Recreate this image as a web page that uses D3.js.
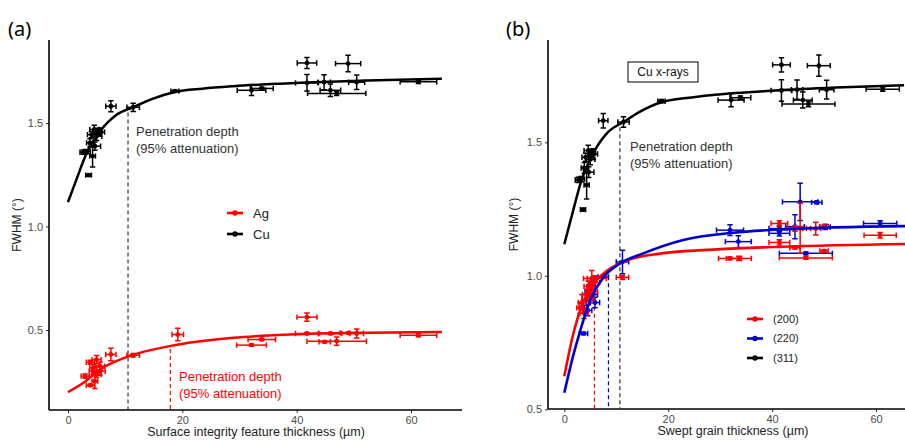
<!DOCTYPE html>
<html>
<head>
<meta charset="utf-8">
<script src="https://cdnjs.cloudflare.com/ajax/libs/d3/7.8.5/d3.min.js"></script>
<style>
	body { margin: 0; background: #fff; }
	svg { font-family: "Liberation Sans", Arial, sans-serif; }
</style>
</head>
<body>
<svg id="chart" width="905" height="440"></svg>
<script>
// points are [thickness, fwhm, xerr, yerr]
var cuPoints = [
	[41.8, 1.790, 1.7, 0.027], [49.0, 1.787, 2.2, 0.040], [41.8, 1.694, 2.0, 0.040],
	[44.8, 1.697, 1.1, 0.036], [45.9, 1.658, 1.8, 0.030], [47.0, 1.643, 5.1, 0.010],
	[50.5, 1.697, 1.4, 0.035], [61.3, 1.699, 3.2, 0.008], [32.1, 1.658, 2.5, 0.025],
	[33.9, 1.667, 2.0, 0.006], [7.5, 1.581, 0.9, 0.027], [11.4, 1.576, 1.1, 0.020],
	[18.7, 1.654, 0.7, 0.006], [4.6, 1.469, 0.8, 0.020], [5.6, 1.456, 0.8, 0.020],
	[5.0, 1.436, 0.9, 0.020], [4.1, 1.444, 0.7, 0.015], [5.3, 1.460, 0.7, 0.015],
	[4.7, 1.388, 1.0, 0.020], [2.7, 1.359, 0.6, 0.010], [3.3, 1.362, 0.6, 0.010],
	[4.3, 1.340, 0.5, 0.052], [3.6, 1.248, 0.5, 0.005], [3.85, 1.404, 0.6, 0.020]
];
var agPoints = [
	[41.8, 0.562, 1.75, 0.020], [19.2, 0.478, 1.0, 0.030], [7.5, 0.382, 0.9, 0.030],
	[11.4, 0.378, 1.1, 0.008], [41.8, 0.483, 2.0, 0.005], [45.9, 0.483, 2.0, 0.005],
	[49.1, 0.486, 1.5, 0.005], [50.5, 0.483, 1.2, 0.022], [61.3, 0.475, 3.2, 0.008],
	[33.9, 0.454, 2.4, 0.005], [32.1, 0.427, 2.6, 0.005], [44.9, 0.443, 1.0, 0.005],
	[47.0, 0.446, 5.2, 0.020], [5.0, 0.357, 0.8, 0.020], [3.9, 0.344, 0.7, 0.010],
	[4.4, 0.317, 0.6, 0.015], [5.6, 0.325, 0.8, 0.020], [3.0, 0.277, 0.7, 0.010],
	[5.0, 0.285, 0.8, 0.015], [3.9, 0.233, 0.7, 0.005], [4.7, 0.253, 0.5, 0.036],
	[5.6, 0.301, 0.9, 0.020], [4.4, 0.301, 0.7, 0.015]
];
var p200Points = [
	[41.4, 1.196, 1.6, 0.010], [41.4, 1.125, 2.0, 0.010], [44.4, 1.177, 1.5, 0.010],
	[45.4, 1.178, 1.2, 0.094], [48.4, 1.177, 1.0, 0.024], [50.0, 1.184, 0.8, 0.005],
	[44.4, 1.105, 1.0, 0.005], [46.5, 1.067, 5.1, 0.005], [50.0, 1.093, 0.8, 0.005],
	[60.8, 1.152, 3.1, 0.010], [31.9, 1.065, 2.2, 0.005], [33.6, 1.065, 2.4, 0.008],
	[11.2, 0.994, 1.2, 0.008], [5.3, 0.990, 0.9, 0.030], [4.6, 0.960, 0.8, 0.020],
	[5.8, 0.975, 1.0, 0.020], [3.4, 0.900, 0.7, 0.030], [4.3, 0.930, 0.8, 0.020],
	[3.0, 0.880, 0.6, 0.020], [3.8, 0.860, 0.8, 0.020], [5.0, 0.920, 0.7, 0.020],
	[5.5, 0.940, 0.9, 0.030], [5.9, 0.990, 2.2, 0.010]
];
var p220Points = [
	[31.9, 1.171, 2.6, 0.020], [33.5, 1.128, 2.5, 0.022], [41.4, 1.177, 2.0, 0.010],
	[41.4, 1.159, 2.0, 0.010], [44.4, 1.184, 1.8, 0.045], [45.4, 1.277, 3.4, 0.070],
	[48.6, 1.275, 1.0, 0.005], [50.2, 1.183, 1.0, 0.010], [60.8, 1.196, 3.2, 0.010],
	[46.5, 1.084, 5.1, 0.005], [11.2, 1.052, 1.2, 0.044], [7.5, 0.996, 1.0, 0.005],
	[3.7, 0.784, 0.8, 0.005], [4.8, 0.940, 0.8, 0.020], [5.6, 0.930, 0.8, 0.030],
	[3.6, 0.880, 0.7, 0.020], [4.5, 0.870, 0.8, 0.020], [5.9, 0.900, 0.9, 0.020],
	[4.2, 0.910, 0.7, 0.020], [5.2, 0.960, 0.8, 0.020]
];

// fitted curves
var cuCurve = [[0, 1.118], [1.5, 1.229], [3.3, 1.357], [5.6, 1.460], [8.5, 1.540], [11.4, 1.576],
	[14.4, 1.613], [18.7, 1.650], [23.5, 1.666], [28.9, 1.678], [40.6, 1.694], [52.3, 1.705], [65.4, 1.714]];
var agCurve = [[0, 0.200], [2.7, 0.245], [5.6, 0.309], [10.3, 0.370], [17.8, 0.422], [28.9, 0.462],
	[40.6, 0.480], [52.3, 0.487], [65.4, 0.490]];
var p200Curve = [[0, 0.624], [1.7, 0.780], [3.7, 0.905], [5.6, 0.970], [7.5, 1.008], [12, 1.057],
	[18.4, 1.083], [29.3, 1.099], [42.2, 1.109], [65.6, 1.119]];
var p220Curve = [[0, 0.562], [1.7, 0.700], [3.0, 0.790], [4.9, 0.905], [7.5, 0.993], [10.7, 1.046],
	[15.2, 1.084], [22.9, 1.134], [32.5, 1.161], [42.2, 1.174], [65.6, 1.186]];

// penetration depths (95% attenuation)
var depthA = [10.5, 17.9];          // Cu, Ag
var depthB = [5.8, 8.5, 10.7];      // (200), (220), (311)

var xTicks = [0, 20, 40, 60];
var yTicks = [0.5, 1.0, 1.5];
var legendA = ["Ag", "Cu"];
var legendB = ["(200)", "(220)", "(311)"];

var RED = "#ff0000", BLUE = "#0000cd", BLACK = "#000000";

var svg = d3.select("#chart");

function drawAxes(p, x, y) {

	var g = svg.append("g");

	g.append("g")
		.attr("transform", "translate(0," + p.bottom + ")")
		.call(d3.axisBottom(x).tickValues(xTicks).tickSize(3).tickPadding(3).tickFormat(d3.format("d")))
		.call(function(s) {
			s.select(".domain").remove();
			s.selectAll("line").attr("stroke", "#333");
			s.selectAll("text").attr("fill", "#4d4d4d").style("font-size", "11px")
				.style("font-family", "Liberation Sans, Arial, sans-serif");
		});

	g.append("g")
		.attr("transform", "translate(" + p.left + ",0)")
		.call(d3.axisLeft(y).tickValues(yTicks).tickSize(3).tickPadding(3).tickFormat(d3.format(".1f")))
		.call(function(s) {
			s.select(".domain").remove();
			s.selectAll("line").attr("stroke", "#333");
			s.selectAll("text").attr("fill", "#4d4d4d").style("font-size", "11px")
				.style("font-family", "Liberation Sans, Arial, sans-serif");
		});

	g.append("line").attr("x1", p.left).attr("x2", p.right).attr("y1", p.bottom).attr("y2", p.bottom)
		.attr("stroke", "#000").attr("stroke-width", 1.6);
	g.append("line").attr("x1", p.left).attr("x2", p.left).attr("y1", p.top).attr("y2", p.bottom)
		.attr("stroke", "#000").attr("stroke-width", 1.6);

	g.append("text")
		.attr("x", p.xTitleX).attr("y", p.bottom + 26)
		.attr("text-anchor", "middle").style("font-size", "12.5px").attr("fill", "#222")
		.text(p.xTitle);

	g.append("text")
		.attr("transform", "translate(" + p.yTitleX + "," + ((p.top + p.bottom) / 2) + ") rotate(-90)")
		.attr("text-anchor", "middle").style("font-size", "12px").attr("fill", "#222")
		.text("FWHM (°)");

	g.append("text")
		.attr("x", p.tagX).attr("y", 36)
		.style("font-family", "Noto Sans, Open Sans, sans-serif").style("font-size", "20px")
		.text(p.tag);
}

function drawDepth(x, y, bottom, depth, curve, color) {

	// value of the curve at the depth, to know where the dashes start
	var top = d3.scaleLinear().domain(curve.map(function(d) { return d[0]; }))
			.range(curve.map(function(d) { return d[1]; }))(depth);

	svg.append("line")
		.attr("x1", x(depth)).attr("x2", x(depth))
		.attr("y1", y(top) + 3).attr("y2", bottom)
		.attr("stroke", color).attr("stroke-width", 1.2)
		.attr("stroke-dasharray", "4,3");
}

function drawCurve(x, y, curve, color, width) {

	var line = d3.line()
		.x(function(d) { return x(d[0]); })
		.y(function(d) { return y(d[1]); })
		.curve(d3.curveMonotoneX);

	svg.append("path")
		.datum(curve)
		.attr("d", line)
		.attr("fill", "none")
		.attr("stroke", color)
		.attr("stroke-width", width);
}

function drawPoints(x, y, points, color) {

	var g = svg.append("g")
		.attr("stroke", color)
		.attr("fill", color)
		.attr("stroke-width", 1.5);

	var pt = g.selectAll("g")
		.data(points)
		.enter().append("g");

	// horizontal error bars
	pt.append("line")
		.attr("x1", function(d) { return x(d[0] - d[2]); })
		.attr("x2", function(d) { return x(d[0] + d[2]); })
		.attr("y1", function(d) { return y(d[1]); })
		.attr("y2", function(d) { return y(d[1]); });
	pt.append("path")
		.attr("fill", "none")
		.attr("d", function(d) {
			var yy = y(d[1]), a = x(d[0] - d[2]), b = x(d[0] + d[2]);
			return "M" + a + "," + (yy - 2.7) + "V" + (yy + 2.7) + "M" + b + "," + (yy - 2.7) + "V" + (yy + 2.7);
		});

	// vertical error bars
	pt.append("line")
		.attr("x1", function(d) { return x(d[0]); })
		.attr("x2", function(d) { return x(d[0]); })
		.attr("y1", function(d) { return y(d[1] - d[3]); })
		.attr("y2", function(d) { return y(d[1] + d[3]); });
	pt.append("path")
		.attr("fill", "none")
		.attr("d", function(d) {
			var xx = x(d[0]), a = y(d[1] - d[3]), b = y(d[1] + d[3]);
			return "M" + (xx - 2.7) + "," + a + "H" + (xx + 2.7) + "M" + (xx - 2.7) + "," + b + "H" + (xx + 2.7);
		});

	pt.append("circle")
		.attr("cx", function(d) { return x(d[0]); })
		.attr("cy", function(d) { return y(d[1]); })
		.attr("r", 2.4)
		.attr("stroke", "none");
}

function drawLegend(items, colors, lx, ly, gap, size) {

	items.forEach(function(label, i) {
		var yy = ly + i * gap;
		svg.append("line")
			.attr("x1", lx).attr("x2", lx + 16).attr("y1", yy).attr("y2", yy)
			.attr("stroke", colors[i]).attr("stroke-width", 2.6);
		svg.append("circle")
			.attr("cx", lx + 8).attr("cy", yy).attr("r", 2.7).attr("fill", colors[i]);
		svg.append("text")
			.attr("x", lx + 26).attr("y", yy + size * 0.36)
			.style("font-size", size + "px").attr("fill", "#222")
			.text(label);
	});
}

function drawNote(x, y, color) {

	var t = svg.append("text")
		.attr("x", x).attr("y", y)
		.style("font-size", "13px").attr("fill", color);
	t.append("tspan").attr("x", x).text("Penetration depth");
	t.append("tspan").attr("x", x).attr("dy", 17).text("(95% attenuation)");
}

// ---- panel (a)
var pa = {left: 49, right: 462, top: 40, bottom: 410, xTitleX: 256, yTitleX: 21, tagX: 8, tag: "(a)",
	xTitle: "Surface integrity feature thickness (µm)"};
var xa = d3.scaleLinear().domain([0, 60]).range([68, 411]);
var ya = d3.scaleLinear().domain([0.5, 1.5]).range([330, 123]);

drawAxes(pa, xa, ya);
drawDepth(xa, ya, pa.bottom, depthA[0], cuCurve, "#333");
drawDepth(xa, ya, pa.bottom, depthA[1], agCurve, RED);
drawPoints(xa, ya, cuPoints, BLACK);
drawPoints(xa, ya, agPoints, RED);
drawCurve(xa, ya, cuCurve, BLACK, 2.5);
drawCurve(xa, ya, agCurve, RED, 2.5);
drawNote(136, 136, "#333");
drawNote(179, 381, RED);
drawLegend(legendA, [RED, BLACK], 227, 213, 21, 13);

// ---- panel (b)
var pb = {left: 548, right: 905, top: 40, bottom: 409, xTitleX: 733, yTitleX: 518, tagX: 506, tag: "(b)",
	xTitle: "Swept grain thickness (µm)"};
var xb = d3.scaleLinear().domain([0, 60]).range([564.3, 876]);
var yb = d3.scaleLinear().domain([0.5, 1.5]).range([409.3, 142.3]);

drawAxes(pb, xb, yb);
drawDepth(xb, yb, pb.bottom, depthB[0], p200Curve, RED);
drawDepth(xb, yb, pb.bottom, depthB[1], p220Curve, BLUE);
drawDepth(xb, yb, pb.bottom, depthB[2], cuCurve, "#333");
drawPoints(xb, yb, p220Points, BLUE);
drawPoints(xb, yb, p200Points, RED);
drawPoints(xb, yb, cuPoints, BLACK);
drawCurve(xb, yb, p200Curve, RED, 2.6);
drawCurve(xb, yb, p220Curve, BLUE, 2.6);
drawCurve(xb, yb, cuCurve, BLACK, 2.5);
drawNote(630, 151, "#333");
drawLegend(legendB, [RED, BLUE, BLACK], 747, 319, 19.5, 11);

// Cu x-rays label box
svg.append("rect")
	.attr("x", 628).attr("y", 62).attr("width", 70).attr("height", 20)
	.attr("fill", "#fff").attr("stroke", "#000").attr("stroke-width", 1);
svg.append("text")
	.attr("x", 663).attr("y", 76).attr("text-anchor", "middle")
	.style("font-size", "12px").attr("fill", "#111")
	.text("Cu x-rays");
</script>
</body>
</html>
